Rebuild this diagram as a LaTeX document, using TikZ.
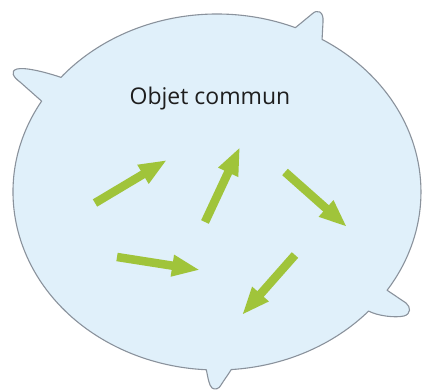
\documentclass[tikz,border=0pt]{standalone}
\usepackage{fontspec}
\setmainfont{Open Sans}
\usetikzlibrary{calc,arrows.meta}
\definecolor{blobfill}{RGB}{224,240,250}
\definecolor{blobline}{RGB}{138,146,156}
\definecolor{arrowgreen}{RGB}{160,196,58}
\definecolor{textcol}{RGB}{30,30,30}
\tikzset{
  blob/.style={fill=blobfill, draw=blobline, line width=1.1pt, line join=round},
  greenarrow/.style={draw=arrowgreen, line width=8.5pt,
    -{Triangle[length=28pt,width=20pt]}},
  title/.style={font=\fontsize{23}{26}\selectfont, text=textcol}
}
\begin{document}
\begin{tikzpicture}[x=1pt,y=1pt]
\useasboundingbox (0,0) rectangle (423,390);
\coordinate (C) at (217,198);
% outline of the common object with its four spikes
\draw[blob]
  ($(C)+(-33.5:204pt and 178pt)$)
  arc[start angle=-33.5, end angle=59, x radius=204pt, y radius=178pt]
  -- (323,368) .. controls (324,379) and (317,381) .. (312,376)
  -- ($(C)+(67.4:204pt and 178pt)$)
  arc[start angle=67.4, end angle=139.9, x radius=204pt, y radius=178pt]
  .. controls (45,318) and (25,323) .. (17,321)
  .. controls (10,319) and (13,313) .. (20,308)
  -- ($(C)+(149.3:204pt and 178pt)$)
  arc[start angle=149.3, end angle=267, x radius=204pt, y radius=178pt]
  .. controls (208,12) and (209,5) .. (212,2)
  .. controls (215,0) and (219,1) .. (221,5)
  .. controls (224,10) and (228,15) .. ($(C)+(274:204pt and 178pt)$)
  arc[start angle=274, end angle=318, x radius=204pt, y radius=178pt]
  .. controls (378,74) and (395,72) .. (404,74)
  .. controls (411,76) and (411,83) .. (406,87)
  -- cycle;
\node[title] (label) at (210,291) {Objet commun};
% arrows
\coordinate (a1s) at (95,187);  \coordinate (a1e) at (167,230);
\coordinate (a2s) at (205,168); \coordinate (a2e) at (240,243);
\coordinate (a3s) at (285,218); \coordinate (a3e) at (347,163);
\coordinate (a4s) at (117,133); \coordinate (a4e) at (200,120);
\coordinate (a5s) at (295,135); \coordinate (a5e) at (242,75);
\draw[greenarrow] (a1s) -- (a1e);
\draw[greenarrow] (a2s) -- (a2e);
\draw[greenarrow] (a3s) -- (a3e);
\draw[greenarrow] (a4s) -- (a4e);
\draw[greenarrow] (a5s) -- (a5e);
\end{tikzpicture}
\end{document}
